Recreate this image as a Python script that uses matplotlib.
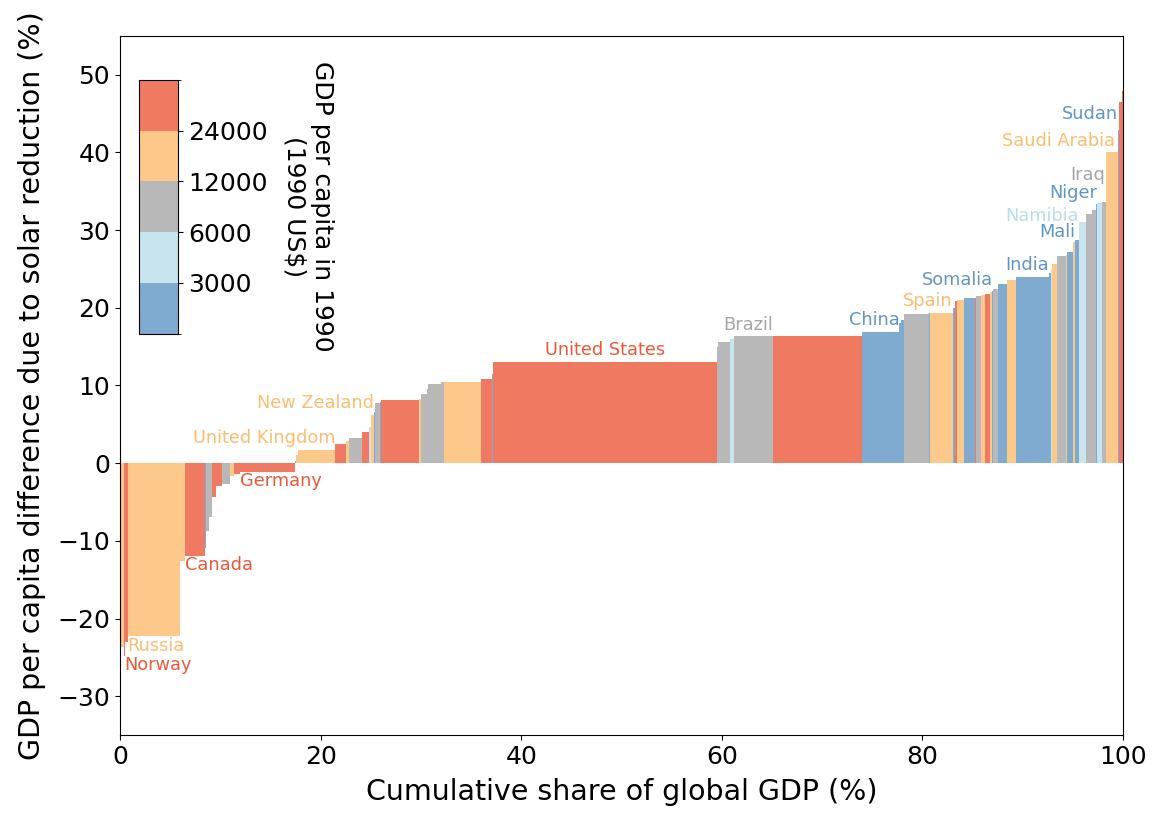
import numpy as np
import matplotlib
matplotlib.use('Agg')
import matplotlib.pyplot as plt
from matplotlib.colors import ListedColormap, BoundaryNorm
import matplotlib.cm as cm

# GDP share (%) of each country, sorted by effect
shares = [0.45, 0.10, 0.22, 5.18, 0.05, 0.48, 1.99, 0.06, 0.07, 0.25,
          0.32, 0.37, 0.03, 0.57, 0.83, 0.40, 0.58, 5.50, 0.10, 0.23,
          3.66, 1.09, 0.30, 1.27, 0.73, 0.17, 0.30, 0.12, 0.53, 0.07,
          3.79, 0.19, 0.60, 0.14, 1.26, 0.30, 3.70, 1.10, 0.10, 22.30,
          0.10, 1.20, 0.45, 3.82, 8.93, 3.70, 0.20, 0.30, 2.50, 0.10,
          2.20, 0.20, 0.25, 0.65, 1.10, 0.10, 0.50, 0.45, 0.50, 0.15,
          0.10, 0.50, 0.90, 0.95, 3.30, 0.15, 0.16, 0.44, 0.90, 0.15,
          0.60, 0.15, 0.40, 0.70, 0.60, 0.40, 0.10, 0.50, 0.40, 1.15,
          0.15, 0.30, 0.10]
# GDP per capita difference (%)
diffs = [-23.7, -24.8, -23.0, -22.3, -15.5, -12.65, -11.9, -10.9, -9.2, -8.7,
         -6.9, -4.4, -3.0, -2.9, -2.7, -1.7, -1.4, -1.1, 0.3, 1.0,
         1.75, 2.5, 2.9, 3.25, 4.0, 4.7, 6.2, 6.6, 7.8, 7.9,
         8.1, 8.2, 8.9, 9.5, 10.2, 10.4, 10.5, 10.8, 11.5, 13.0,
         14.9, 15.6, 16.0, 16.3, 16.35, 16.9, 18.0, 18.4, 19.15, 19.3,
         19.35, 20.0, 20.9, 21.0, 21.2, 21.3, 21.5, 21.7, 21.8, 22.0,
         22.1, 22.4, 23.1, 23.6, 24.0, 24.5, 25.0, 25.6, 26.7, 26.8,
         27.2, 28.5, 28.7, 31.0, 32.1, 32.6, 33.3, 33.5, 33.6, 40.0,
         42.9, 46.5, 47.9]
# income class: 0 <3000, 1 3000-6000, 2 6000-12000, 3 12000-24000, 4 >24000
groups = [3, 4, 4, 3, 2, 3, 4, 0, 3, 2,
          2, 4, 0, 4, 2, 3, 4, 4, 0, 3,
          3, 4, 3, 2, 4, 1, 3, 0, 2, 0,
          4, 3, 2, 2, 2, 2, 3, 4, 0, 4,
          2, 2, 1, 2, 4, 0, 0, 0, 2, 0,
          3, 0, 4, 3, 0, 4, 2, 3, 4, 3,
          0, 2, 0, 3, 0, 0, 1, 3, 2, 3,
          0, 3, 0, 1, 2, 2, 0, 1, 2, 3,
          0, 4, 4]
names = ['', 'Norway', '', 'Russia', '', '', 'Canada', '', '', '',
         '', '', '', '', '', '', '', 'Germany', '', '',
         'United Kingdom', '', '', '', '', '', 'New Zealand', '', '', '',
         '', '', '', '', '', '', '', '', '', 'United States',
         '', '', '', 'Brazil', '', 'China', '', '', '', '',
         'Spain', '', '', '', '', '', '', '', '', '',
         'Somalia', '', '', '', 'India', '', '', '', '', '',
         '', '', 'Mali', 'Namibia', '', '', 'Niger', '', 'Iraq', 'Saudi Arabia',
         'Sudan', '', '']

bounds = [0, 3000, 6000, 12000, 24000, 48000]
cbar_ticks = [3000, 6000, 12000, 24000]

bar_cols = ['#80abd0', '#c8e4ef', '#b8b8b8', '#fdc98b', '#ef7961']
txt_cols = ['#6096c4', '#baddeb', '#a6a6a6', '#fdbc6e', '#eb5839']

# label tweaks (data units) where labels were shifted to avoid overlaps
nudge = {'Mali': (-0.4, -0.5), 'Namibia': (-0.7, -0.7), 'Iraq': (-0.1, 2.0),
         'Saudi Arabia': (-0.25, 0.0), 'Sudan': (-0.1, 0.6)}

fig = plt.figure(figsize=(11.59, 8.14), dpi=100)
ax = fig.add_axes([0.1035, 0.097, 0.8655, 0.859])

shares = np.array(shares)
diffs = np.array(diffs)
lefts = np.concatenate([[0], np.cumsum(shares)[:-1]])
colors = [bar_cols[g] for g in groups]

ax.bar(lefts, diffs, width=shares, align='edge', color=colors, edgecolor='none')

fs_lab = 12.8
for i, name in enumerate(names):
    if not name:
        continue
    dx, dy = nudge.get(name, (0, 0))
    c = txt_cols[groups[i]]
    if name == 'United States':
        ax.text(lefts[i] + shares[i] / 2, diffs[i] + 1.5, name, color=c,
                fontsize=fs_lab, ha='center', va='center')
    elif diffs[i] < 0:
        ax.text(lefts[i] + dx, diffs[i] - 1.2 + dy, name, color=c,
                fontsize=fs_lab, ha='left', va='center')
    else:
        ax.text(lefts[i] + shares[i] + dx, diffs[i] + 1.5 + dy, name, color=c,
                fontsize=fs_lab, ha='right', va='center')

ax.set_xlim(0, 100)
ax.set_ylim(-35, 55)
ax.set_xlabel('Cumulative share of global GDP (%)', fontsize=20.5, labelpad=7)
ax.set_ylabel('GDP per capita difference due to solar reduction (%)',
              fontsize=20.5, labelpad=8)
ax.tick_params(labelsize=18)

# colorbar inset
cax = ax.inset_axes([0.019, 0.574, 0.039, 0.363])
cmap = ListedColormap(bar_cols)
norm = BoundaryNorm(bounds, cmap.N)
cb = fig.colorbar(cm.ScalarMappable(norm=norm, cmap=cmap), cax=cax,
                  ticks=cbar_ticks, spacing='uniform')
cb.ax.tick_params(labelsize=18)
cb.set_label('GDP per capita in 1990\n(1990 US$)', rotation=270,
             fontsize=18, labelpad=48)

fig.savefig('out.png', dpi=100)
